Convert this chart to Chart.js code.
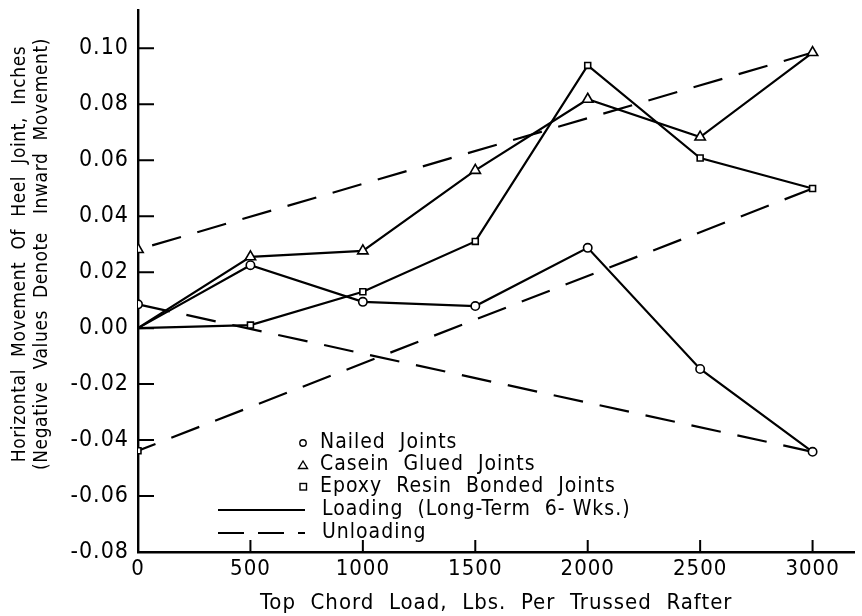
<!DOCTYPE html>
<html>
<head>
<meta charset="utf-8">
<script src="https://cdn.jsdelivr.net/npm/chart.js@4.4.0/dist/chart.umd.min.js"></script>
<style>
  html, body { margin: 0; padding: 0; background: #fff; }
  #wrap { width: 862px; height: 616px; }
</style>
</head>
<body>
<div id="wrap"><canvas id="c" width="862" height="616"></canvas></div>
<script>
// ---- data ----
const loads = [0, 500, 1000, 1500, 2000, 2500, 3000];
const nailedLoading = [0.000, 0.0225, 0.0094, 0.0079, 0.0287, -0.0146, -0.0442];
const caseinLoading = [0.000, 0.0255, 0.0276, 0.0564, 0.0818, 0.0683, 0.0985];
const epoxyLoading  = [0.000, 0.0011, 0.0130, 0.0310, 0.0939, 0.0608, 0.0499];
const unloadLoads = [3000, 0];
const nailedUnloading = [-0.0442, 0.0085];
const caseinUnloading = [0.0985, 0.0281];
const epoxyUnloading  = [0.0499, -0.0438];
const xTickValues = [0, 500, 1000, 1500, 2000, 2500, 3000];
const yTickValues = [-0.08, -0.06, -0.04, -0.02, 0.00, 0.02, 0.04, 0.06, 0.08, 0.10];
const legendLabels = ['Nailed  Joints', 'Casein  Glued  Joints', 'Epoxy  Resin  Bonded  Joints', 'Loading  (Long-Term  6- Wks.)', 'Unloading'];
const xTitle = 'Top  Chord  Load,  Lbs.  Per  Trussed  Rafter';
const yTitle = ['Horizontal  Movement  Of  Heel  Joint,  Inches', '(Negative  Values  Denote   Inward  Movement)'];

const FONT = '"DejaVu Sans Condensed", "Liberation Sans Narrow", "DejaVu Sans", sans-serif';

function pts(xs, ys) { return xs.map((x, i) => ({ x: x, y: ys[i] })); }

const base = { borderColor: '#000', backgroundColor: '#fff', borderWidth: 2.2, pointBorderColor: '#000',
  pointBackgroundColor: '#fff', pointBorderWidth: 1.6, showLine: true, tension: 0, fill: false };

const datasets = [
  Object.assign({}, base, { label: 'nl', data: pts(loads, nailedLoading), pointStyle: 'circle', pointRadius: [0,4.2,4.2,4.2,4.2,4.2,4.2] }),
  Object.assign({}, base, { label: 'cl', data: pts(loads, caseinLoading), pointStyle: 'triangle', pointRadius: [0,6,6,6,6,6,6] }),
  Object.assign({}, base, { label: 'el', data: pts(loads, epoxyLoading), pointStyle: 'rect', pointRadius: [0,4.2,4.2,4.2,4.2,4.2,4.2] }),
  Object.assign({}, base, { label: 'nu', data: pts(unloadLoads, nailedUnloading), pointStyle: 'circle', pointRadius: [0,4.2], borderDash: [30, 17] }),
  Object.assign({}, base, { label: 'cu', data: pts(unloadLoads, caseinUnloading), pointStyle: 'triangle', pointRadius: [0,6], borderDash: [30, 17] }),
  Object.assign({}, base, { label: 'eu', data: pts(unloadLoads, epoxyUnloading), pointStyle: 'rect', pointRadius: [0,4.2], borderDash: [30, 17] })
];

const spacing = {
  id: 'spacing',
  beforeInit(chart) { chart.ctx.letterSpacing = '1px'; },
  beforeUpdate(chart) { chart.ctx.letterSpacing = '1px'; },
  beforeDraw(chart) { chart.ctx.letterSpacing = '1px'; }
};

const inwardTicks = {
  id: 'inwardTicks',
  afterDatasetsDraw(chart) {
    const ctx = chart.ctx, xs = chart.scales.x, ys = chart.scales.y, a = chart.chartArea;
    ctx.save();
    ctx.strokeStyle = '#000'; ctx.lineWidth = 2;
    ctx.beginPath();
    yTickValues.forEach(v => { const y = ys.getPixelForValue(v); ctx.moveTo(a.left, y); ctx.lineTo(a.left + 16, y); });
    xTickValues.slice(1).forEach(v => { const x = xs.getPixelForValue(v); ctx.moveTo(x, a.bottom); ctx.lineTo(x, a.bottom - 12); });
    ctx.stroke();
    ctx.restore();
  }
};

const yTitlePlugin = {
  id: 'yTitlePlugin',
  afterDraw(chart) {
    const ctx = chart.ctx;
    ctx.save();
    ctx.font = '19px ' + FONT;
    ctx.letterSpacing = '0.6px';
    ctx.fillStyle = '#000'; ctx.textAlign = 'center'; ctx.textBaseline = 'middle';
    ctx.translate(20, 254);
    ctx.rotate(-Math.PI / 2);
    ctx.fillText(yTitle[0], 0, 0);
    ctx.fillText(yTitle[1], 0, 22);
    ctx.restore();
  }
};

const customLegend = {
  id: 'customLegend',
  afterDraw(chart) {
    const ctx = chart.ctx;
    ctx.save();
    ctx.font = '21px ' + FONT;
    ctx.letterSpacing = '1px';
    ctx.fillStyle = '#000'; ctx.textBaseline = 'middle'; ctx.textAlign = 'left';
    const rows = [443, 465, 487, 510, 533];
    const tx = 320;
    ctx.strokeStyle = '#000'; ctx.lineWidth = 1.4;
    ctx.beginPath(); ctx.arc(303, rows[0], 3.2, 0, Math.PI * 2); ctx.stroke();
    ctx.beginPath(); ctx.moveTo(303, rows[1] - 4); ctx.lineTo(307.5, rows[1] + 3.5); ctx.lineTo(298.5, rows[1] + 3.5); ctx.closePath(); ctx.stroke();
    ctx.strokeRect(300, rows[2] - 3.5, 6.5, 6.5);
    ctx.lineWidth = 1.8;
    ctx.beginPath(); ctx.moveTo(218, rows[3]); ctx.lineTo(305, rows[3]); ctx.stroke();
    ctx.setLineDash([26, 14]);
    ctx.beginPath(); ctx.moveTo(218, rows[4]); ctx.lineTo(305, rows[4]); ctx.stroke();
    ctx.setLineDash([]);
    legendLabels.forEach((t, i) => ctx.fillText(t, i < 3 ? tx : 322, rows[i]));
    ctx.restore();
  }
};

new Chart(document.getElementById('c'), {
  type: 'scatter',
  data: { datasets: datasets },
  plugins: [spacing, inwardTicks, yTitlePlugin, customLegend],
  options: {
    responsive: false,
    animation: false,
    layout: { padding: { top: 10, right: 5, left: 0, bottom: 0 } },
    plugins: { legend: { display: false }, tooltip: { enabled: false } },
    scales: {
      x: {
        type: 'linear', min: 0, max: 3186,
        afterBuildTicks(s) { s.ticks = xTickValues.map(v => ({ value: v })); },
        afterFit(s) { s.height = 64; s.paddingLeft = 0; s.paddingRight = 0; },
        grid: { display: false, drawTicks: false },
        border: { display: true, color: '#000', width: 2.4 },
        ticks: { color: '#000', font: { family: FONT, size: 22 }, padding: 4, maxRotation: 0,
          callback: v => String(v) },
        title: { display: true, text: xTitle, color: '#000', font: { family: FONT, size: 22 }, padding: { top: 2, bottom: 0 } }
      },
      y: {
        type: 'linear', min: -0.08, max: 0.1137,
        afterBuildTicks(s) { s.ticks = yTickValues.map(v => ({ value: v })); },
        afterFit(s) { s.width = 138; s.paddingTop = 0; s.paddingBottom = 0; },
        grid: { display: false, drawTicks: false },
        border: { display: true, color: '#000', width: 2.4 },
        ticks: { color: '#000', font: { family: FONT, size: 23 }, padding: 9,
          callback: v => (v < 0 ? '-' : '') + Math.abs(v).toFixed(2) },
        title: { display: false }
      }
    }
  }
});
</script>
</body>
</html>
